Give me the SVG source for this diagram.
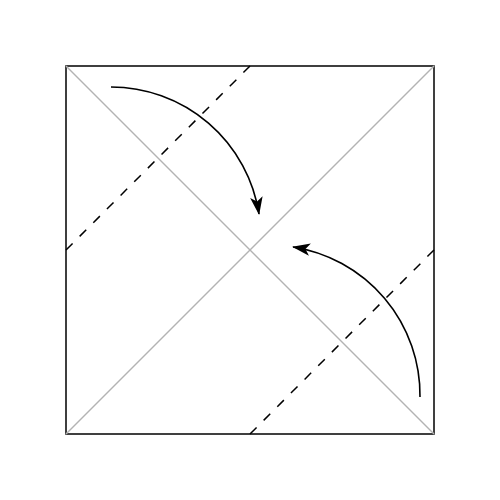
<svg xmlns="http://www.w3.org/2000/svg" width="500" height="500" viewBox="0 0 500 500">
<style>
.diag{stroke:#b3b3b3;stroke-width:1.4;fill:none}
.edge{stroke:#000;stroke-width:1.5;fill:none}
.valley{stroke:#000;stroke-width:1.5;fill:none;stroke-dasharray:9.3,10}
.arrow{stroke:#000;stroke-width:1.6;fill:none;marker-end:url(#ah)}
</style>
<defs>
<marker id="ah" viewBox="0 0 20 14" refX="19" refY="7" markerWidth="18" markerHeight="13" markerUnits="userSpaceOnUse" orient="auto">
<path d="M0,0 L20,7 L0,14 L5,7 Z" fill="#000"/>
</marker>
</defs>
<rect width="500" height="500" fill="#fff"/>
<g id="paper">
<rect class="edge" x="66" y="66" width="368" height="368"/>
</g>
<g id="creases">
<line class="diag" x1="66" y1="66" x2="434" y2="434"/>
<line class="diag" x1="434" y1="66" x2="66" y2="434"/>
<line class="valley" x1="66" y1="250" x2="250" y2="66"/>
<line class="valley" x1="250" y1="434" x2="434" y2="250"/>
</g>
<g id="connectors">
<path class="arrow" d="M111,87 A150,150 0 0 1 259,214"/>
<path class="arrow" d="M420,397 A150,150 0 0 0 293,247"/>
</g>
</svg>
